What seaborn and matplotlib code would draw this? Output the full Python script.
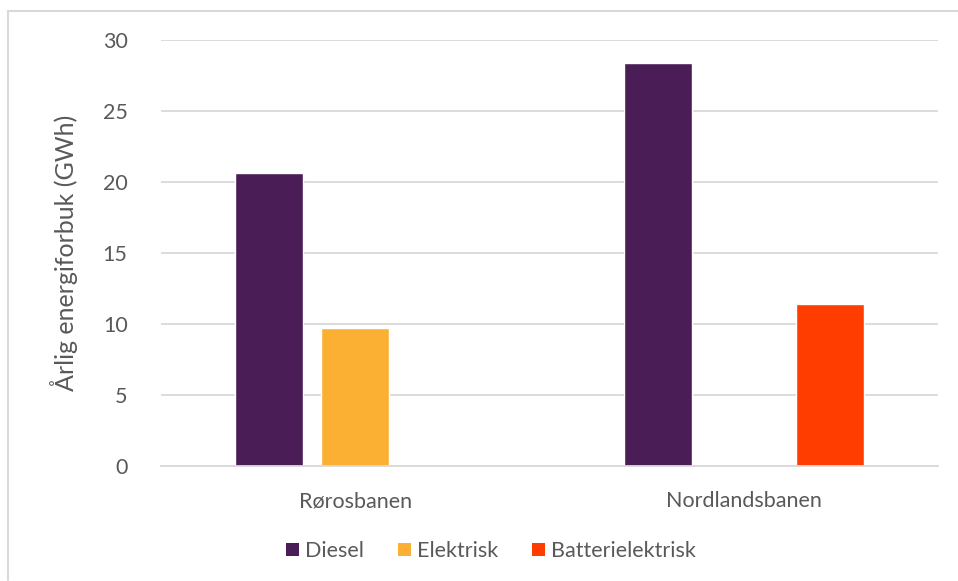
import matplotlib
matplotlib.use("Agg")
import matplotlib.pyplot as plt
import seaborn as sns
import pandas as pd
import numpy as np
from matplotlib.patches import Patch
from matplotlib.lines import Line2D

categories = ["Rørosbanen", "Nordlandsbanen"]
series = ["Diesel", "Elektrisk", "Batterielektrisk"]
diesel = [20.6, 28.4]
elektrisk = [9.7, np.nan]
batteri = [np.nan, 11.4]
colors = ["#4A1D57", "#FBB034", "#FF3D00"]
yticks = [0, 5, 10, 15, 20, 25, 30]

rows = []
for i, c in enumerate(categories):
    for s, vals in zip(series, [diesel, elektrisk, batteri]):
        rows.append({"Bane": c, "Type": s, "Verdi": vals[i]})
df = pd.DataFrame(rows)

sns.set_theme(style="white")
plt.rcParams['font.family'] = ['Lato', 'DejaVu Sans']
text_color = "#595959"

fig = plt.figure(figsize=(9.58, 5.81), dpi=100)
ax = fig.add_axes([161/958, 1 - 466/581, (938-161)/958, (466-40)/581])

sns.barplot(data=df, x="Bane", y="Verdi", hue="Type", order=categories,
            hue_order=series, palette=colors, width=0.664, gap=0.21,
            saturation=1, ax=ax, legend=False)

ax.set_xlim(-0.5, 1.5)
ax.set_ylim(0, 30)
ax.set_yticks(yticks)
ax.set_yticklabels([str(t) for t in yticks])
ax.yaxis.grid(True, color="#D9D9D9", linewidth=1.3)
ax.set_axisbelow(True)
for sp in ["top", "right", "left"]:
    ax.spines[sp].set_visible(False)
ax.spines["bottom"].set_color("#D9D9D9")
ax.spines["bottom"].set_linewidth(1.3)
ax.tick_params(axis="both", length=0, colors=text_color, labelsize=15.5)
ax.tick_params(axis="y", pad=24)
ax.tick_params(axis="x", pad=18)
ax.set_xlabel("")
ax.set_ylabel("Årlig energiforbuk (GWh)", color=text_color, fontsize=18, labelpad=18)

handles = [Patch(facecolor=c, edgecolor="none") for c in colors]
fig.legend(handles, series, loc="center", bbox_to_anchor=(491/958, 1 - 551/581),
           ncol=3, frameon=False, fontsize=15.5, labelcolor=text_color,
           handlelength=0.6, handleheight=0.6, handletextpad=0.3, columnspacing=1.55)

# outer chart frame (left and top edges)
fig.add_artist(Line2D([7.5/958, 7.5/958], [0.002, 1 - 11/581], color="#D9D9D9", linewidth=1.5, transform=fig.transFigure))
fig.add_artist(Line2D([7.5/958, 1.0], [1 - 11/581, 1 - 11/581], color="#D9D9D9", linewidth=1.5, transform=fig.transFigure))

fig.savefig("out.png", dpi=100)
